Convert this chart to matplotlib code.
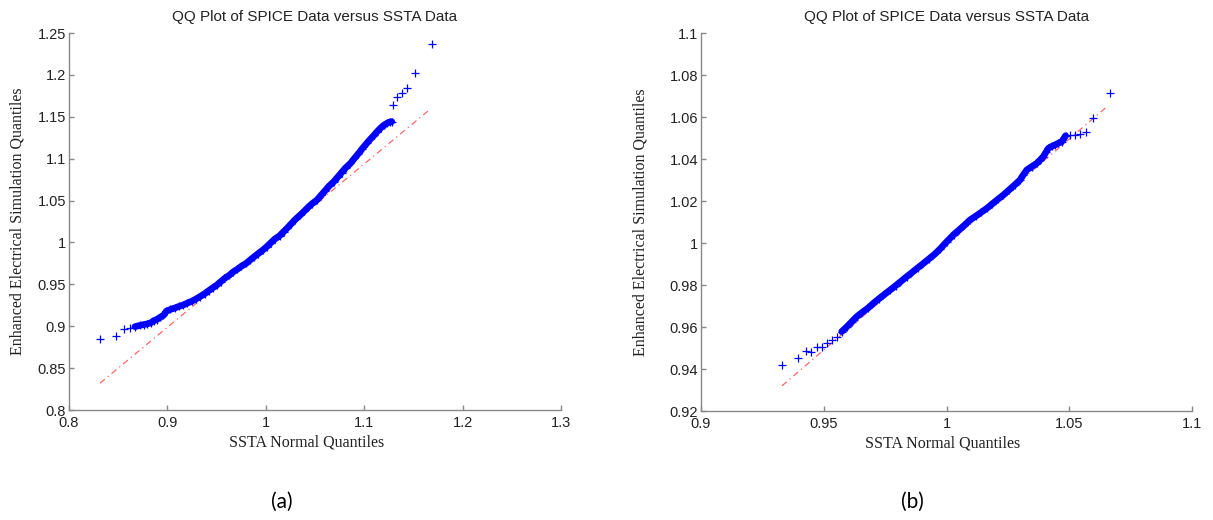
import numpy as np
import matplotlib.pyplot as plt

# ---- panel (a): sample quantiles ----
qa_x = [0.8315, 0.848, 0.856, 0.862, 0.867, 0.872, 0.876, 0.879, 0.883, 0.886,
        0.889, 0.8925, 0.896, 0.899, 0.903, 0.908, 0.912, 0.916, 0.920, 0.925,
        0.929, 0.933, 0.938, 0.942, 0.946, 0.950, 0.954, 0.958, 0.963, 0.967,
        0.971, 0.975, 0.980, 0.984, 0.988, 0.992, 0.997, 1.001, 1.005, 1.009,
        1.014, 1.018, 1.022, 1.026, 1.030, 1.035, 1.039, 1.043, 1.047, 1.052,
        1.056, 1.060, 1.064, 1.069, 1.073, 1.077, 1.081, 1.086, 1.090, 1.094,
        1.098, 1.1025, 1.106, 1.110, 1.113, 1.117, 1.120, 1.123, 1.126, 1.128,
        1.1297, 1.133, 1.138, 1.143, 1.1516, 1.1692]
qa_y = [0.8844, 0.8887, 0.897, 0.898, 0.8995, 0.901, 0.902, 0.9027, 0.904, 0.9066,
        0.908, 0.9106, 0.913, 0.918, 0.920, 0.922, 0.9238, 0.9253, 0.9275, 0.930,
        0.9325, 0.9353, 0.939, 0.9425, 0.9458, 0.949, 0.953, 0.957, 0.961, 0.965,
        0.968, 0.9715, 0.975, 0.979, 0.9828, 0.9865, 0.991, 0.995, 0.9995, 1.004,
        1.008, 1.0128, 1.0175, 1.0225, 1.0275, 1.0328, 1.0373, 1.042, 1.0463, 1.0507,
        1.0562, 1.0615, 1.067, 1.0725, 1.078, 1.0835, 1.089, 1.0944, 1.1003, 1.106,
        1.112, 1.1183, 1.123, 1.128, 1.1322, 1.137, 1.140, 1.1422, 1.1438, 1.1442,
        1.1637, 1.174, 1.178, 1.1847, 1.2019, 1.2372]
ref_a_x = [0.8315, 1.167]
ref_a_y = [0.832, 1.159]

# ---- panel (b) ----
qb_x = [0.9331, 0.9396, 0.9426, 0.9448, 0.9471, 0.9492, 0.9512, 0.9532, 0.9553, 0.9573,
        0.9593, 0.9614, 0.9634, 0.9657, 0.968, 0.9702, 0.9725, 0.9747, 0.977, 0.9793,
        0.9815, 0.9838, 0.9861, 0.9883, 0.9906, 0.9929, 0.9951, 0.9974, 1.0, 1.0029,
        1.0051, 1.0073, 1.0096, 1.0119, 1.0141, 1.0164, 1.0187, 1.0209, 1.0232, 1.0254,
        1.0277, 1.0299, 1.0313, 1.0327, 1.0347, 1.0367, 1.0381, 1.0394, 1.0405, 1.0415,
        1.0428, 1.0442, 1.0455, 1.0469, 1.0485, 1.0503, 1.0523, 1.0544, 1.0567, 1.0598,
        1.0666]
qb_y = [0.9418, 0.9454, 0.9486, 0.9482, 0.9506, 0.9506, 0.9522, 0.9538, 0.9551, 0.9578,
        0.960, 0.9625, 0.9649, 0.967, 0.969, 0.9713, 0.9735, 0.9755, 0.9776, 0.9797,
        0.9818, 0.984, 0.9861, 0.9882, 0.9903, 0.9925, 0.9946, 0.9972, 1.0005, 1.004,
        1.0062, 1.0085, 1.011, 1.0128, 1.0146, 1.0165, 1.0187, 1.0208, 1.0229, 1.0252,
        1.0276, 1.030, 1.0325, 1.0348, 1.0364, 1.0379, 1.0395, 1.0411, 1.0432, 1.0451,
        1.046, 1.0467, 1.0475, 1.0482, 1.0511, 1.0514, 1.0514, 1.0517, 1.053, 1.0594,
        1.0713]
ref_b_x = [0.933, 1.0653]
ref_b_y = [0.932, 1.0649]

# dense band (index range) in each panel
band_a = (4, 70)
band_b = (9, 55)

xticks_a = [0.8, 0.9, 1.0, 1.1, 1.2, 1.3]
xlabels_a = ['0.8', '0.9', '1', '1.1', '1.2', '1.3']
yticks_a = [0.8, 0.85, 0.9, 0.95, 1.0, 1.05, 1.1, 1.15, 1.2, 1.25]
ylabels_a = ['0.8', '0.85', '0.9', '0.95', '1', '1.05', '1.1', '1.15', '1.2', '1.25']
xticks_b = [0.9, 0.95, 1.0, 1.05, 1.1]
xlabels_b = ['0.9', '0.95', '1', '1.05', '1.1']
yticks_b = [0.92, 0.94, 0.96, 0.98, 1.0, 1.02, 1.04, 1.06, 1.08, 1.1]
ylabels_b = ['0.92', '0.94', '0.96', '0.98', '1', '1.02', '1.04', '1.06', '1.08', '1.1']

TXT = '#222222'
SPINE = '#888888'

fig = plt.figure(figsize=(12.13, 5.2), dpi=100)
ax_a = fig.add_axes([0.0569, 0.2115, 0.4056, 0.725])
ax_b = fig.add_axes([0.5779, 0.2096, 0.4048, 0.7269])


def qq_panel(ax, qx, qy, rx, ry, band, xt, xl, yt, yl, xlab_x, ylab_x):
    ax.plot(rx, ry, color='red', lw=0.9, alpha=0.6, linestyle=(0, (5, 3, 1, 3)), zorder=1)
    i0, i1 = band
    ax.plot(qx[i0:i1], qy[i0:i1], color='blue', lw=4.8, solid_capstyle='round', zorder=2)
    ax.plot(qx, qy, linestyle='none', marker='+', color='blue', markersize=5.5,
            markeredgewidth=0.9, zorder=3)

    ax.set_xlim(xt[0], xt[-1])
    ax.set_ylim(yt[0], yt[-1])
    ax.set_xticks(xt)
    ax.set_xticklabels(xl)
    ax.set_yticks(yt)
    ax.set_yticklabels(yl)
    for s in ('top', 'right'):
        ax.spines[s].set_visible(False)
    for s in ('left', 'bottom'):
        ax.spines[s].set_color(SPINE)
        ax.spines[s].set_linewidth(1.0)
    ax.tick_params(direction='in', length=3.5, width=1.0, color=SPINE,
                   labelsize=10.5, labelcolor=TXT)
    ax.tick_params(axis='x', pad=4)
    ax.tick_params(axis='y', pad=2)
    for lab in ax.get_xticklabels() + ax.get_yticklabels():
        lab.set_family('Liberation Sans')

    ax.set_title('QQ Plot of SPICE Data versus SSTA Data', fontsize=11,
                 family='Liberation Sans', color=TXT, pad=9)
    ax.set_xlabel('SSTA Normal Quantiles', fontsize=11.5, family='Liberation Serif', color=TXT)
    ax.xaxis.set_label_coords(xlab_x, -0.066)
    ax.set_ylabel('Enhanced Electrical Simulation Quantiles', fontsize=11.5,
                  family='Liberation Serif', color=TXT)
    ax.yaxis.set_label_coords(ylab_x, 0.5)


qq_panel(ax_a, qa_x, qa_y, ref_a_x, ref_a_y, band_a,
         xticks_a, xlabels_a, yticks_a, ylabels_a, 0.482, -0.089)
qq_panel(ax_b, qb_x, qb_y, ref_b_x, ref_b_y, band_b,
         xticks_b, xlabels_b, yticks_b, ylabels_b, 0.493, -0.106)

fig.text(0.2325, 0.0346, '(a)', fontsize=15, family='Lato', color='black',
         ha='center', va='center')
fig.text(0.7519, 0.0346, '(b)', fontsize=15, family='Lato', color='black',
         ha='center', va='center')

fig.savefig('out.png', dpi=100)
